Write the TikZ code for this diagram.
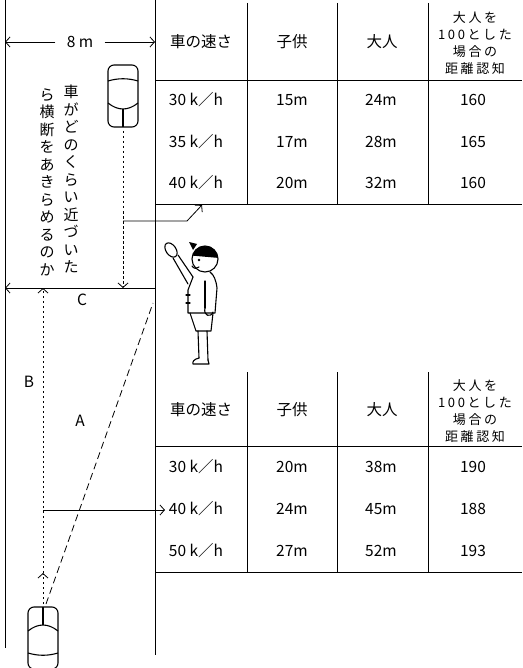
\documentclass[tikz,border=0pt]{standalone}
\usepackage{fontspec}
\setmainfont{Noto Sans CJK JP}
\usetikzlibrary{arrows.meta}

\tikzset{
  barb/.style={-{Straight Barb[length=4.5pt,width=10pt]}},
  dots/.style={dash pattern=on 2.5pt off 2.5pt},
  dashes/.style={dash pattern=on 7pt off 4pt},
  vtext/.style={align=center, inner sep=0pt, font=\fontsize{15}{17.5}\selectfont},
  headcell/.style={align=center, inner sep=0pt, font=\fontsize{13}{17}\selectfont\addfontfeature{LetterSpace=20}},
  figure/.style={line width=1.1pt, line join=round, line cap=round},
  car/.pic={
    \draw[line width=1.1pt, rounded corners=6pt] (-15,-31) rectangle (15,31);
    \draw[line width=1.1pt] (-15,-15) .. controls (-5,-18) and (5,-18) .. (15,-15);
    \draw[line width=1.1pt] (-15,7) .. controls (-5,15) and (5,15) .. (15,7);
    \draw[line width=1.1pt] (0,13) -- (0,31);
  }
}

\begin{document}
\begin{tikzpicture}[x=1pt,y=-1pt,line width=0.8pt,font=\fontsize{15.5}{18}\selectfont]
\useasboundingbox (0,0) rectangle (522,668);

% road edges
\draw (5,0) -- (5,648);
\draw (155,0) -- (155,655);

% upper table
\draw (247,3) -- (247,204);
\draw (337,3) -- (337,204);
\draw (428,3) -- (428,204);
\draw (155,80) -- (522,80);
\draw (155,204) -- (522,204);
\node (hs1) at (201,42) {車の速さ};
\node (hc1) at (292,42) {子供};
\node (ha1) at (382,42) {大人};
\node[headcell] (hr1) at (475,43) {大人を\\100とした\\場合の\\距離認知};
\node (s11) at (196,100) {30 k／h};
\node (c11) at (292,100) {15m};
\node (a11) at (381,100) {24m};
\node (r11) at (473,100) {160};
\node (s12) at (196,142) {35 k／h};
\node (c12) at (292,142) {17m};
\node (a12) at (381,142) {28m};
\node (r12) at (473,142) {165};
\node (s13) at (196,183) {40 k／h};
\node (c13) at (292,183) {20m};
\node (a13) at (381,183) {32m};
\node (r13) at (473,183) {160};

% lower table
\draw (247,372) -- (247,572);
\draw (337,372) -- (337,572);
\draw (428,372) -- (428,572);
\draw (155,446) -- (522,446);
\draw (155,572) -- (522,572);
\node (hs2) at (201,410) {車の速さ};
\node (hc2) at (292,410) {子供};
\node (ha2) at (382,410) {大人};
\node[headcell] (hr2) at (475,411) {大人を\\100とした\\場合の\\距離認知};
\node (s21) at (196,467) {30 k／h};
\node (c21) at (292,467) {20m};
\node (a21) at (381,467) {38m};
\node (r21) at (473,467) {190};
\node (s22) at (196,509) {40 k／h};
\node (c22) at (292,509) {24m};
\node (a22) at (381,509) {45m};
\node (r22) at (473,509) {188};
\node (s23) at (196,551) {50 k／h};
\node (c23) at (292,551) {27m};
\node (a23) at (381,551) {52m};
\node (r23) at (473,551) {193};

% road width
\node[inner xsep=11pt] (w) at (80,42) {8 m};
\coordinate (wl) at (5,42);
\coordinate (wr) at (155,42);
\draw[barb] (w) -- (wl);
\draw[barb] (w) -- (wr);

% question, written top to bottom
\node[vtext] (q1) at (71,179) {車\\が\\ど\\の\\く\\ら\\い\\近\\づ\\い\\た};
\node[vtext] (q2) at (47,182) {ら\\横\\断\\を\\あ\\き\\ら\\め\\る\\の\\か};

% oncoming cars
\pic at (123,96) {car};
\pic[rotate=180] at (43,638) {car};

% line C
\coordinate (cl) at (5,288);
\coordinate (cr) at (155,288);
\draw[barb] (cr) -- (cl);
\node (lc) at (82,300) {C};
\node (lb) at (29,382) {B};
\node (la) at (80,421) {A};

% near car: stop point and link to upper table
\coordinate (n0) at (123,131);
\coordinate (n1) at (123,288);
\coordinate (n2) at (123,221);
\coordinate (n3) at (187,221);
\coordinate (n4) at (202,205);
\draw[dots,barb] (n0) -- (n1);
\draw[barb] (n2) -- (n3) -- (n4);

% far car: sight lines and link to lower table
\coordinate (f0) at (43,604);
\coordinate (f1) at (43,573);
\coordinate (f2) at (43,288);
\coordinate (f3) at (43,510);
\coordinate (f4) at (165,510);
\coordinate (g0) at (46,604);
\coordinate (g1) at (153,303);
\draw[dots,barb] (f0) -- (f1);
\draw[dots,barb] (f1) -- (f2);
\draw[dashes] (g0) -- (g1);
\draw[barb] (f3) -- (f4);

% boy with raised hand
\begin{scope}[figure]
\draw (205,259) circle[radius=13];
\fill (205,259) ++(-165:13) arc[start angle=-165, end angle=-5, radius=13] -- cycle;
\fill (193,250) -- (189,242) -- (197,244) -- cycle;
\fill (199,260) circle[radius=1.3];
\draw (192,266) .. controls (194,269) and (197,269) .. (199,267);
\draw[rotate around={35:(171,250)}] (171,250) ellipse[x radius=5, y radius=8];
\draw (173,258) -- (188,284);
\draw (178,255) -- (193,277);
\draw (193,277) -- (188,290) -- (188,313) -- (215,313) -- (217,288) .. controls (216,280) and (214,275) .. (210,272);
\draw (186,295) -- (190,295);
\draw (186,303) -- (190,303);
\draw (205,281) -- (205,308);
\draw (205,308) .. controls (203,316) and (211,318) .. (213,312);
\draw (190,313) -- (196,331) -- (211,331) -- (213,313);
\draw (198,331) -- (199,358);
\draw (207,331) -- (208,360);
\draw (199,358) .. controls (194,359) and (192,362) .. (193,364) -- (209,364) -- (208,360);
\end{scope}
\end{tikzpicture}
\end{document}
